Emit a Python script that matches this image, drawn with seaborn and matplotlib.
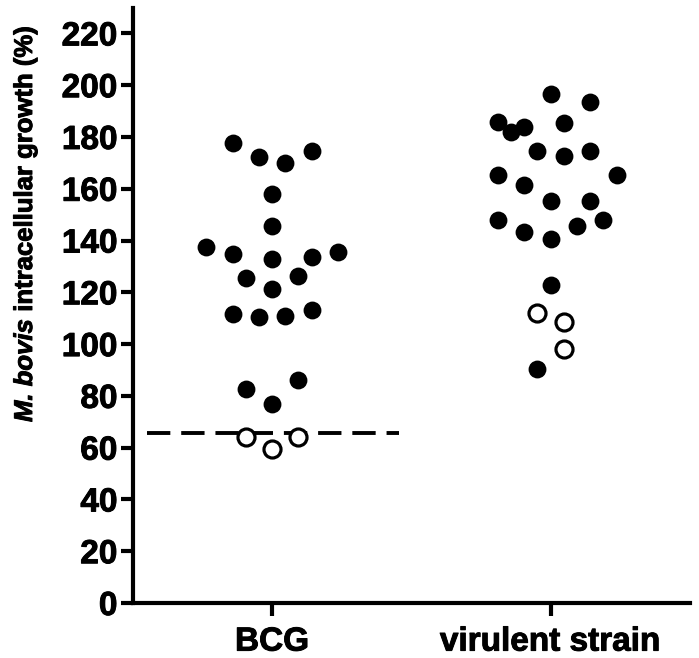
import numpy as np
import pandas as pd
import seaborn as sns
from matplotlib import pyplot as plt
from matplotlib import patheffects as pe

# group labels
groups = ["BCG", "virulent strain"]

# BCG values (filled = responders, open = below cut-off)
bcg_filled = [177.5, 172.1, 169.8, 174.5, 157.9, 145.5, 137.4, 134.7, 132.8,
              133.5, 135.5, 125.4, 126.2, 121.2, 111.5, 110.4, 110.8, 113.1,
              82.6, 86.1, 76.8]
bcg_filled_slot = [-3, -1, 1, 3, 0, 0, -5, -3, 0, 3, 5, -2, 2, 0, -3, -1, 1, 3,
                   -2, 2, 0]
bcg_open = [64.1, 59.4, 64.1]
bcg_open_slot = [-2, 0, 2]

# virulent strain values
vir_filled = [196.4, 193.4, 185.6, 181.8, 183.7, 185.3, 174.5, 172.5, 174.5,
              165.2, 165.2, 161.3, 155.2, 155.2, 147.8, 143.2, 140.5, 145.5,
              147.8, 122.7, 90.3]
vir_filled_slot = [0, 3, -4, -3, -2, 1, -1, 1, 3, -4, 5, -2, 0, 3, -4, -2, 0, 2,
                   4, 0, -1]
vir_open = [111.9, 108.5, 98.0]
vir_open_slot = [-1, 1, 1]

cutoff = 65.6
step = 0.0473  # horizontal spacing between neighbouring dots (category units)

filled = pd.DataFrame({
    "x": np.r_[0 + np.array(bcg_filled_slot) * step, 1 + np.array(vir_filled_slot) * step],
    "y": bcg_filled + vir_filled,
})
opened = pd.DataFrame({
    "x": np.r_[0 + np.array(bcg_open_slot) * step, 1 + np.array(vir_open_slot) * step],
    "y": bcg_open + vir_open,
})

sns.set_style("ticks")
plt.rcParams['font.family'] = ['Liberation Sans', 'DejaVu Sans']
plt.rcParams['font.weight'] = 'bold'
plt.rcParams['text.color'] = 'black'
plt.rcParams['axes.labelcolor'] = 'black'
plt.rcParams['xtick.color'] = 'black'
plt.rcParams['ytick.color'] = 'black'
plt.rcParams['axes.edgecolor'] = 'black'

fig = plt.figure(figsize=(6.99, 6.58), dpi=100)
ax = fig.add_axes([0.190, 0.0836, 0.797, 0.905])

sns.scatterplot(data=filled, x="x", y="y", ax=ax, color="black", s=165,
                edgecolor="black", linewidth=0, zorder=3)
sns.scatterplot(data=opened, x="x", y="y", ax=ax, facecolor="white", s=150,
                edgecolor="black", linewidth=2.3, zorder=3)

ax.plot([-0.45, 0.455], [cutoff, cutoff], color="black", lw=2.8,
        dashes=(6, 2.8), zorder=2)

ax.set_xlim(-0.5, 1.5)
ax.set_ylim(0, 230)
ax.set_yticks(np.arange(0, 221, 20))
ax.set_xticks([0, 1])
ax.set_xticklabels(groups, fontsize=24, fontweight="bold")
ax.tick_params(axis="y", labelsize=24, width=3, length=9, pad=2)
ax.tick_params(axis="x", width=3, length=9, pad=8)
thick = [pe.withStroke(linewidth=0.7, foreground="black")]
for lab in ax.get_yticklabels() + ax.get_xticklabels():
    lab.set_fontweight("bold")
    lab.set_path_effects(thick)
ax.set_xlabel("")
ax.set_ylabel("")
sns.despine(ax=ax)
for sp in ["left", "bottom"]:
    ax.spines[sp].set_linewidth(3)

# y label in two pieces: italic species name + bold rest
t1 = fig.text(25, 236, "M. bovis", transform=None, rotation=90, ha="center",
              va="bottom", fontsize=18.5, fontweight="bold", style="italic",
              path_effects=thick)
fig.canvas.draw()
h1 = t1.get_window_extent().height
fig.text(25, 236 + h1, " intracellular growth (%)", transform=None,
         rotation=90, ha="center", va="bottom", fontsize=18.5,
         fontweight="bold", path_effects=thick)

fig.savefig("out.png", dpi=100)
